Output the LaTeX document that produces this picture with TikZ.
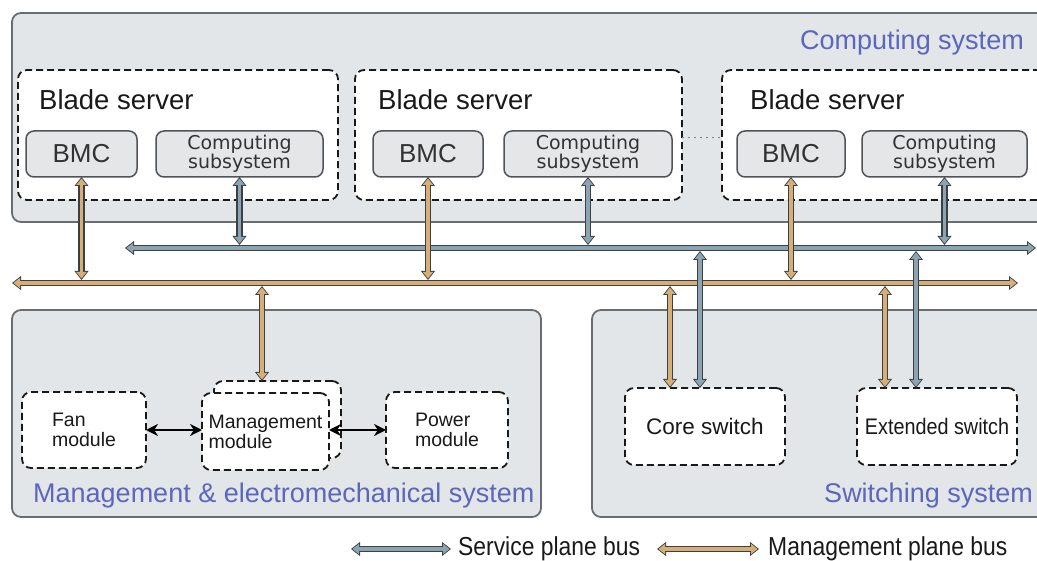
\documentclass[tikz,border=0pt]{standalone}
\usepackage{fontspec}
\setmainfont{Liberation Sans}
\newfontfamily\dvs{DejaVu Sans}
\newfontfamily\narrowf[FakeStretch=0.88]{Liberation Sans}
\usetikzlibrary{arrows.meta}
\definecolor{sysfill}{HTML}{E2E6E9}
\definecolor{sysline}{HTML}{6A6D70}
\definecolor{subfill}{HTML}{E4E6E8}
\definecolor{subline}{HTML}{505458}
\definecolor{lblue}{RGB}{92,102,188}
\definecolor{mgcol}{HTML}{D6AE78}
\definecolor{svcol}{HTML}{8CA3B2}
\definecolor{busline}{HTML}{3A4044}
\definecolor{txtgray}{HTML}{303234}
\begin{document}
\begin{tikzpicture}[x=1pt,y=-1pt,
  sysbox/.style={draw=sysline, fill=sysfill, line width=1.8pt, rounded corners=9pt, inner sep=0pt, outer sep=0pt},
  dbox/.style={draw=black!90, fill=white, line width=1.8pt, dash pattern=on 7pt off 4pt, rounded corners=9pt, inner sep=0pt, outer sep=0pt},
  subbox/.style={draw=subline, fill=subfill, line width=1.5pt, rounded corners=8pt, inner sep=0pt, outer sep=0pt},
  syslabel/.style={text=lblue, font=\fontsize{27}{30}\selectfont, inner sep=0pt},
  bladelabel/.style={text=black!90, font=\fontsize{27.5}{30}\selectfont, inner sep=0pt, anchor=base west},
  modtext/.style={align=left, font=\fontsize{19.5}{20}\selectfont, text=black!90},
  mbus/.style={draw=mgcol, line width=3.8pt,
    {Triangle[width=10pt,length=6.5pt]}-{Triangle[width=10pt,length=6.5pt]},
    shorten <=1.5pt, shorten >=1.5pt,
    preaction={draw=busline, line width=6.2pt,
      {Triangle[width=13.5pt,length=9pt]}-{Triangle[width=13.5pt,length=9pt]},
      shorten <=0pt, shorten >=0pt}},
  sbus/.style={mbus, draw=svcol},
  blk/.style={draw=black, line width=2.4pt,
    {Stealth[length=12pt,width=12pt]}-{Stealth[length=12pt,width=12pt]}}
]
\useasboundingbox (0,0) rectangle (1037,561);
\clip (0,0) rectangle (1037,561);
\fill[white] (0,0) rectangle (1037,561);

% computing system
\node[sysbox, minimum width=1038pt, minimum height=209pt] (comp) at (531,117.5) {};
\node[syslabel, anchor=base east] (complbl) at (1024,50) {Computing system};

% blade servers
\node[dbox, minimum width=320pt, minimum height=130pt] (blade1) at (178,135) {};
\node[dbox, minimum width=327pt, minimum height=130pt] (blade2) at (518.5,135) {};
\node[dbox, minimum width=327pt, minimum height=130pt] (blade3) at (885.5,135) {};
\node[bladelabel] (bl1) at (39,110) {Blade server};
\node[bladelabel] (bl2) at (378,110) {Blade server};
\node[bladelabel] (bl3) at (750,110) {Blade server};
\coordinate (dotY) at (0,138);
\draw[gray, line width=1pt, dash pattern=on 2pt off 4pt] (blade2.east |- dotY) -- (blade3.west |- dotY);

% BMC and computing subsystems
\node[subbox, minimum width=111pt, minimum height=46pt, text=txtgray, font=\fontsize{26}{28}\selectfont] (bmc1) at (81.5,154) {BMC};
\node[subbox, minimum width=110pt, minimum height=46pt, text=txtgray, font=\fontsize{26}{28}\selectfont] (bmc2) at (428,154) {BMC};
\node[subbox, minimum width=108pt, minimum height=46pt, text=txtgray, font=\fontsize{26}{28}\selectfont] (bmc3) at (791,154) {BMC};
\node[subbox, minimum width=167pt, minimum height=46pt, text=txtgray, align=center, font=\dvs\fontsize{19}{17}\selectfont] (cs1) at (239.5,154) {Computing\\subsystem};
\node[subbox, minimum width=168pt, minimum height=46pt, text=txtgray, align=center, font=\dvs\fontsize{19}{17}\selectfont] (cs2) at (588,154) {Computing\\subsystem};
\node[subbox, minimum width=165pt, minimum height=46pt, text=txtgray, align=center, font=\dvs\fontsize{19}{17}\selectfont] (cs3) at (944.5,154) {Computing\\subsystem};

% lower systems
\node[sysbox, minimum width=529pt, minimum height=207pt] (mes) at (276.5,413.5) {};
\node[sysbox, minimum width=458pt, minimum height=207pt] (sws) at (821,413.5) {};
\node[syslabel, anchor=base west] (meslbl) at (33,502) {Management \& electromechanical system};
\node[syslabel, anchor=base east] (swslbl) at (1033,502) {Switching system};

\node[dbox, minimum width=124pt, minimum height=76pt, modtext] (fan) at (84,430) {Fan\\module};
\node[dbox, minimum width=127pt, minimum height=77pt] (mgmtback) at (277.5,419.5) {};
\node[dbox, minimum width=127pt, minimum height=77pt, modtext] (mgmt) at (265.5,431.5) {Management\\module};
\node[dbox, minimum width=122pt, minimum height=76pt, modtext] (power) at (447,430) {Power\\module};
\node[dbox, minimum width=160pt, minimum height=77pt, font=\fontsize{22.5}{24}\selectfont, text=black!90] (core) at (705,426.5) {Core switch};
\node[dbox, minimum width=160pt, minimum height=77pt, font=\narrowf\fontsize{22.5}{24}\selectfont, text=black!90] (ext) at (937,426.5) {Extended switch};

% buses
\coordinate (svL) at (125,248);
\coordinate (svR) at (1036,248);
\coordinate (mgL) at (12,283);
\coordinate (mgR) at (1018,283);
\coordinate (svT) at (0,245);
\coordinate (svB) at (0,251);
\coordinate (mgT) at (0,280);
\coordinate (mgB) at (0,286);
\draw[sbus] (svL) -- (svR);
\draw[mbus] (mgL) -- (mgR);

% computing subsystem to service bus
\draw[sbus] (cs1.south) -- (cs1.south |- svT);
\draw[sbus] (cs2.south) -- (cs2.south |- svT);
\draw[sbus] (cs3.south) -- (cs3.south |- svT);
% BMC to management bus
\draw[mbus] (bmc1.south) -- (bmc1.south |- mgT);
\draw[mbus] (bmc2.south) -- (bmc2.south |- mgT);
\draw[mbus] (bmc3.south) -- (bmc3.south |- mgT);

% lower connections
\coordinate (mmx) at (262,0);
\draw[mbus] (mmx |- mgB) -- (mmx |- mgmtback.north);
\coordinate (c1x) at (670,0);
\coordinate (c2x) at (700,0);
\coordinate (e1x) at (885,0);
\coordinate (e2x) at (916,0);
\draw[mbus] (c1x |- mgB) -- (c1x |- core.north);
\draw[sbus] (c2x |- svB) -- (c2x |- core.north);
\draw[mbus] (e1x |- mgB) -- (e1x |- ext.north);
\draw[sbus] (e2x |- svB) -- (e2x |- ext.north);

\draw[blk] (fan.east) -- (mgmt.west |- fan.east);
\draw[blk] (mgmt.east |- power.west) -- (power.west);

% legend
\coordinate (lg1a) at (351,549);
\coordinate (lg1b) at (451,549);
\coordinate (lg2a) at (657,549);
\coordinate (lg2b) at (759,549);
\draw[sbus] (lg1a) -- (lg1b);
\draw[mbus] (lg2a) -- (lg2b);
\node[anchor=base west, inner sep=0pt, font=\narrowf\fontsize{26}{28}\selectfont, text=black!90] (lgt1) at (458,555) {Service plane bus};
\node[anchor=base west, inner sep=0pt, font=\narrowf\fontsize{26}{28}\selectfont, text=black!90] (lgt2) at (768,555) {Management plane bus};
\end{tikzpicture}
\end{document}
